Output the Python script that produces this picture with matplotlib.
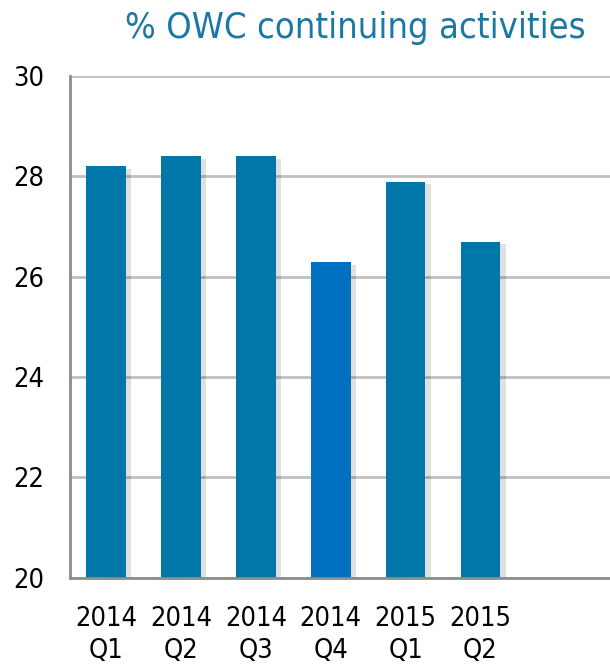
import matplotlib.pyplot as plt
import matplotlib.patheffects as pe

# quarters and % OWC values
quarters = ['2014\nQ1', '2014\nQ2', '2014\nQ3', '2014\nQ4', '2015\nQ1', '2015\nQ2']
owc_pct = [28.2, 28.4, 28.4, 26.3, 27.9, 26.7]
bar_colors = ['#0077A8', '#0077A8', '#0077A8', '#0070C0', '#0077A8', '#0077A8']

plt.rcParams['font.family'] = ['DejaVu Sans']
plt.rcParams['font.stretch'] = 'condensed'

fig = plt.figure(figsize=(6.1, 6.68), dpi=100)
ax = fig.add_axes([0.115, 0.135, 0.885, 0.751])

x = range(len(quarters))
bars = ax.bar(x, [v - 20 for v in owc_pct], bottom=20, width=0.53, color=bar_colors, zorder=3)
for b in bars:
    b.set_path_effects([pe.SimplePatchShadow(offset=(4, -2), shadow_rgbFace='#000000', alpha=0.12), pe.Normal()])

ax.set_ylim(20, 30)
ax.set_xlim(-0.48, 6.73)
ax.set_yticks([20, 22, 24, 26, 28, 30])
ax.set_xticks(list(x))
ax.set_xticklabels(quarters, fontsize=19.5, linespacing=1.3)
ax.tick_params(axis='y', labelsize=19.5, length=0, pad=19)
ax.tick_params(axis='x', length=0, pad=20)

ax.grid(axis='y', color='#c0c0c0', linewidth=2, zorder=0)
for s in ['top', 'right']:
    ax.spines[s].set_visible(False)
for s in ['left', 'bottom']:
    ax.spines[s].set_color('#8c8c8c')
    ax.spines[s].set_linewidth(2)
    ax.spines[s].set_zorder(4)

fig.text(0.96, 0.983, '% OWC continuing activities', ha='right', va='top',
         fontsize=26, color='#1A78A6')

plt.savefig('out.png', dpi=100)
